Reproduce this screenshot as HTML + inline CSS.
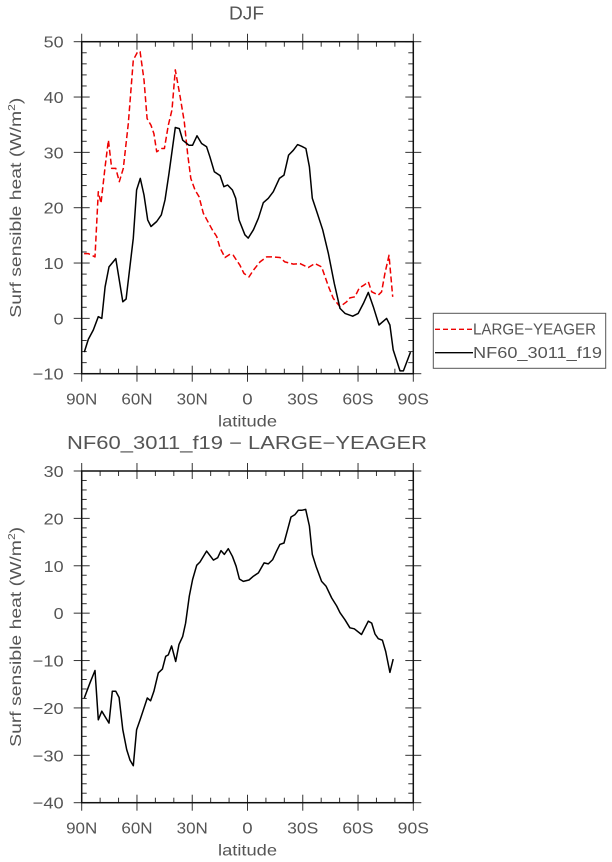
<!DOCTYPE html>
<html><head><meta charset="utf-8"><style>
body{margin:0;background:#fff;width:612px;height:862px;overflow:hidden}
svg{display:block;font-family:"Liberation Sans","DejaVu Sans",sans-serif}
.t{fill:#555}
</style></head><body>
<svg id="svg" width="612" height="862" viewBox="0 0 612 862" xmlns="http://www.w3.org/2000/svg"></svg>
<script>
const xTicks=[90,60,30,0,-30,-60,-90];
const xTickLabels=["90N","60N","30N","0","30S","60S","90S"];
const topYTicks=[-10,0,10,20,30,40,50];
const botYTicks=[-40,-30,-20,-10,0,10,20,30];
const blackLat=[88.6,86.4,83.7,81,79.1,77.3,75.2,71.5,67.7,65.9,62,60.2,58.2,56.2,54.2,52.4,49.3,46.8,44.8,42.6,39.2,37,35.2,31.8,29.8,27.4,24.9,22.2,20.4,18,14.9,12.8,10.8,8.2,6.4,4.6,1.4,-0.4,-3.2,-5.9,-8.6,-11.3,-14,-17.3,-19.8,-22.3,-24.9,-27.2,-29.4,-31.7,-33.6,-35.2,-37.9,-40.8,-43.9,-47.1,-50.2,-52.9,-57.1,-60.1,-62.9,-65.6,-68.3,-71.4,-75.5,-77.3,-79.1,-82.8,-84.6,-88.5];
const blackVal=[-6.1,-3.8,-2.1,0.3,0,5.7,9.3,10.8,3.0,3.5,14.5,23.2,25.3,22.3,17.8,16.6,17.5,18.7,21.4,26.2,34.5,34.3,32.2,31.3,31.3,33.0,31.6,31.0,29.2,26.5,25.8,23.8,24.1,23.2,21.7,17.8,15.1,14.5,16.0,18.1,20.9,21.7,22.9,25.3,25.9,29.5,30.4,31.4,31.1,30.7,27.4,21.7,19.0,16.0,11.7,6.3,1.8,0.9,0.4,0.9,2.7,4.7,2.1,-1.2,0,-1.2,-5.7,-9.5,-9.5,-6.1];
const redLat=[88.7,86.4,82.8,81,79.5,77.3,75.5,73.7,71.5,69.6,67.4,64.7,62,59.6,58.3,56.2,54.5,52.4,50.8,49.3,46.6,45.1,43,41,39.2,36.6,34.3,32.5,30.8,28.5,26.3,24,22.2,19.1,16.7,14.9,12.2,9.5,7.7,5.9,4.1,1.9,-0.8,-3.2,-6.8,-10.4,-13.1,-17.6,-20.3,-24.9,-28.5,-33,-36.6,-40.2,-43.9,-46.6,-50.2,-53.8,-55.6,-58.3,-60.7,-63.2,-65.6,-67.4,-71,-72.8,-74.6,-76.8,-78.8];
const redVal=[11.7,11.7,11.1,22.9,20.8,27.4,32.2,27.1,27.1,24.7,27.1,35.2,46.7,48.2,48.2,43.1,36.1,34.9,33.4,30.1,30.7,30.7,34.9,37.7,44.9,40.1,35.5,29.8,25.3,23.2,22.0,19.0,17.9,16.0,14.8,12.7,11.0,11.6,11.4,10.5,9.6,8.1,7.5,8.7,10.2,11.1,11.1,11.0,10.2,9.8,9.9,9.2,9.9,9.3,5.8,3.6,2.1,3.0,3.7,3.9,5.5,6.0,6.6,4.8,4.2,4.8,8.1,11.4,3.9];
const diffLat=[88.6,85.5,82.8,81,79.1,75.2,73.4,71.5,69.7,67.7,65.6,63.8,62,60.2,58.3,56.5,54.4,52.6,50.8,48.4,46.2,44.4,43,41.2,39,37.2,35.2,33.6,31.6,29.8,27.6,25.8,22.2,18.5,16.2,14.4,12.6,10.4,8.2,6.2,4.4,2.3,-0.8,-3.2,-5.9,-9,-11.3,-13.7,-15.8,-17.6,-19.8,-21.8,-23.6,-25.8,-27.6,-29.4,-31.6,-33.6,-35.2,-37.2,-40.2,-42.6,-45.7,-48.4,-50.2,-52.9,-55.6,-58,-61.9,-65.6,-67.4,-69.2,-71,-73.2,-75,-77.3,-79.1];
const diffVal=[-17.9,-14.7,-12.1,-22.5,-20.7,-23.2,-16.5,-16.5,-17.8,-24.6,-28.8,-31.0,-32.2,-24.6,-22.5,-20.4,-17.9,-18.5,-16.5,-12.6,-11.8,-9.1,-8.8,-6.9,-10.2,-6.6,-4.9,-2.1,3.6,7.1,10.1,10.8,13.1,11.2,11.7,13.2,12.4,13.6,12.0,9.9,7.2,6.7,7.0,7.8,8.5,10.6,10.4,11.3,13.1,14.5,14.8,17.7,20.3,20.8,21.7,21.7,21.9,18.4,12.4,9.9,6.7,5.7,3.2,1.5,0.1,-1.4,-3.1,-3.3,-4.5,-1.7,-2.1,-4.4,-5.4,-5.7,-8.1,-12.5,-9.7];

const NS='http://www.w3.org/2000/svg';
const svg=document.getElementById('svg');
function mk(tag,attrs,parent){const e=document.createElementNS(NS,tag);for(const k in attrs)e.setAttribute(k,attrs[k]);(parent||svg).appendChild(e);return e;}
const X0=81.7,X1=413.3;
const xs=lat=>X0+(90-lat)/180*(X1-X0);

function panel(name,yT,yB,ymin,ymax,yticks,series,title,titleX,titleW){
  const g=mk('g',{});
  
  
  const ys=v=>yB-(v-ymin)/(ymax-ymin)*(yB-yT);
  const t=mk('text',{x:titleX,y:yT-22,'text-anchor':'middle',class:'t','font-size':'18',textLength:titleW,lengthAdjust:'spacingAndGlyphs'},g);
  t.textContent=title;
  
  
  for(let l=90;l>=-90;l-=10){const x=xs(l);
    const major=l%30===0;
    const len=major?8:5;
    mk('line',{x1:x,x2:x,y1:yB,y2:yB-len,stroke:'#333','stroke-width':1},g);
    mk('line',{x1:x,x2:x,y1:yT,y2:yT+len,stroke:'#333','stroke-width':1},g);
    if(major){mk('line',{x1:x,x2:x,y1:yB,y2:yB+8,stroke:'#333','stroke-width':1},g);
      mk('line',{x1:x,x2:x,y1:yT,y2:yT-8,stroke:'#333','stroke-width':1},g);}
  }
  for(let v=ymin;v<=ymax+0.01;v+=2){const y=ys(v);const major=Math.abs(v%10)<0.01;const len=major?8:5;
    mk('line',{x1:X0,x2:X0+len,y1:y,y2:y,stroke:'#333','stroke-width':1},g);
    mk('line',{x1:X1,x2:X1-len,y1:y,y2:y,stroke:'#333','stroke-width':1},g);
    if(major){mk('line',{x1:X0,x2:X0-8,y1:y,y2:y,stroke:'#333','stroke-width':1},g);
      mk('line',{x1:X1,x2:X1+8,y1:y,y2:y,stroke:'#333','stroke-width':1},g);}
  }
  const fr=mk('rect',{x:X0,y:yT,width:X1-X0,height:yB-yT,fill:'none',stroke:'#111','stroke-width':1.5},g);
  
  
  yticks.forEach(v=>{const s=v<0?'\u2212'+(-v):String(v);
    const tx=mk('text',{x:X0-18,y:ys(v)+6,'text-anchor':'end',class:'t','font-size':'16',textLength:(v<0?31:10*s.length),lengthAdjust:'spacingAndGlyphs'},g);
    tx.textContent=s;
    
    });
  xTicks.forEach((l,i)=>{const s=xTickLabels[i];
    const tx=mk('text',{x:xs(l),y:yB+31,'text-anchor':'middle',class:'t','font-size':'16',textLength:s.length*10.4,lengthAdjust:'spacingAndGlyphs'},g);
    tx.textContent=s;
    
    });
  const xl=mk('text',{x:(X0+X1)/2,y:yB+53,'text-anchor':'middle',class:'t','font-size':'16',textLength:59,lengthAdjust:'spacingAndGlyphs'},g);
  xl.textContent='latitude';
  
  
  const cy=(yT+yB)/2;
  const yl=mk('text',{x:21,y:cy,'text-anchor':'middle',class:'t','font-size':'16',transform:`rotate(-90 21 ${cy})`,textLength:220,lengthAdjust:'spacingAndGlyphs'},g);
  yl.innerHTML='Surf sensible heat (W/m<tspan dy="-6" font-size="10">2</tspan><tspan dy="6">)</tspan>';
  
  
  series.forEach(s=>{
    const p=mk('polyline',{points:s.lat.map((l,i)=>xs(l).toFixed(1)+','+ys(s.val[i]).toFixed(1)).join(' '),fill:'none',stroke:s.color,'stroke-width':1.5,'stroke-dasharray':s.dash||'none','stroke-linejoin':'round'},g);
    
    
  });
}
panel('top-panel',41.7,373.7,-10,50,topYTicks,[
  {lat:redLat,val:redVal,color:'#e00',dash:'6 3',name:'large-yeager-line'},
  {lat:blackLat,val:blackVal,color:'#000',name:'nf60-line'}],'DJF',246.5,35);
panel('bottom-panel',471,802.7,-40,30,botYTicks,[
  {lat:diffLat,val:diffVal,color:'#000',name:'difference-line'}],'NF60_3011_f19 \u2212 LARGE\u2212YEAGER',247,360);

const lg=mk('g',{});


mk('rect',{x:433.3,y:313.3,width:172.4,height:55,fill:'#fff',stroke:'#555','stroke-width':1},lg);
mk('line',{x1:435,x2:473,y1:329.3,y2:329.3,stroke:'#e00','stroke-width':1.3,'stroke-dasharray':'5 3'},lg);
mk('line',{x1:435,x2:473,y1:352.7,y2:352.7,stroke:'#000','stroke-width':1.3},lg);
const l1=mk('text',{x:473,y:334.5,class:'t','font-size':'16',textLength:123,lengthAdjust:'spacingAndGlyphs'},lg);l1.textContent='LARGE\u2212YEAGER';


const l2=mk('text',{x:473,y:358,class:'t','font-size':'16',textLength:129,lengthAdjust:'spacingAndGlyphs'},lg);l2.textContent='NF60_3011_f19';


</script>
</body></html>
